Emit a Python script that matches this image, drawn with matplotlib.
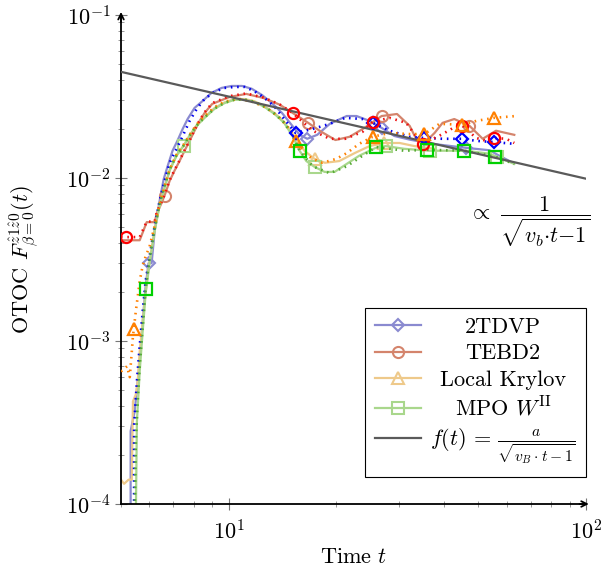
import numpy as np
import matplotlib
matplotlib.use('Agg')
import matplotlib.pyplot as plt
from matplotlib.ticker import LogLocator, NullFormatter

plt.rcParams['font.family'] = 'cmr10'
plt.rcParams['mathtext.fontset'] = 'cm'
plt.rcParams['axes.formatter.use_mathtext'] = True
plt.rcParams['axes.unicode_minus'] = False

# ---- data ----
tdvp_t = [5.32, 5.32, 5.46, 5.64, 5.75, 5.86, 5.97, 6.09, 6.21, 6.41, 6.58, 6.75, 6.97, 7.19, 7.44, 7.68,
          8.03, 8.46, 8.96, 9.56, 10.2, 10.9, 11.6, 12.4, 13.2, 14.1, 15.0, 15.8, 16.6, 17.7, 19.2, 21.4,
          22.8, 24.8, 26.8, 29.1, 32.1, 37.2, 46.3, 53.7, 57.2, 62.4]
tdvp_y = [8e-5, 0.00028, 0.00037, 0.00075, 0.00132, 0.00217, 0.0030, 0.0030, 0.00472, 0.00722, 0.0098,
          0.0118, 0.0147, 0.0169, 0.0200, 0.0230, 0.0269, 0.0297, 0.0333, 0.0357, 0.0367, 0.0367, 0.0353,
          0.0323, 0.0289, 0.0251, 0.0212, 0.0184, 0.0174, 0.0184, 0.0215, 0.0240, 0.0240, 0.0224, 0.0203,
          0.0181, 0.0172, 0.0162, 0.0153, 0.0148, 0.0137, 0.0124]
tdvp_marks = [5.97, 16.6, 26.8, 46.3]

tdvp2_t = [5.44, 5.44, 5.54, 5.64, 5.75, 5.86, 6.01, 6.21, 6.41, 6.62, 6.84, 7.15, 7.44, 7.78, 8.14, 8.57,
           9.14, 9.74, 10.4, 11.1, 11.8, 12.6, 13.45, 14.3, 15.4, 17.2, 19.2, 21.2, 23.7, 25.3, 28.2, 32.1,
           35.3, 39.7, 45.1, 49.3, 55.4, 63.0]
tdvp2_y = [8e-5, 0.000303, 0.000565, 0.00093, 0.00152, 0.00233, 0.0033, 0.00507, 0.00722, 0.00958, 0.0124,
           0.0151, 0.0181, 0.0224, 0.0265, 0.0306, 0.0338, 0.0357, 0.0362, 0.0362, 0.0341, 0.0310, 0.0274,
           0.0230, 0.0189, 0.0200, 0.0215, 0.0234, 0.0230, 0.0218, 0.0195, 0.0179, 0.0176, 0.0174, 0.0174,
           0.0169, 0.0166, 0.0162]
tdvp2_marks = [5.44, 15.4, 25.3, 35.3, 45.1, 55.4]

tebd_t = [5.0, 5.64, 5.90, 6.21, 6.30, 6.45, 6.62, 6.84, 7.06, 7.29, 7.53, 7.78, 8.03, 8.30, 8.57, 9.0,
          10.06, 11.2, 12.5, 13.89, 15.1, 16.7, 17.97, 19.9, 21.8, 24.0, 25.6, 26.8, 29.6, 32.1, 33.7, 35.3,
          37.7, 39.7, 42.8, 47.2, 51.4, 56.0, 63.0]
tebd_y = [0.00415, 0.00415, 0.00536, 0.00536, 0.0061, 0.0068, 0.0078, 0.0096, 0.0111, 0.0127, 0.0147,
          0.0169, 0.0195, 0.0224, 0.0251, 0.0285, 0.0314, 0.0328, 0.0310, 0.0282, 0.0251, 0.0218, 0.0195,
          0.0171, 0.0179, 0.0203, 0.0224, 0.0240, 0.0247, 0.0209, 0.0169, 0.0164, 0.0189, 0.0218, 0.0230,
          0.0209, 0.0174, 0.0195, 0.0184]
tebd_marks = [6.62, 16.7, 26.8, 47.2]

tebd2_t = [5.0, 5.15, 5.64, 5.90, 6.21, 6.30, 6.45, 6.62, 6.84, 7.06, 7.29, 7.53, 7.78, 8.03, 8.30, 8.57,
           9.0, 10.06, 11.2, 12.5, 13.89, 15.1, 17.2, 19.2, 21.2, 23.7, 25.3, 28.2, 31.4, 34.2, 34.9, 39.7,
           42.5, 45.1, 49.3, 52.6, 55.4, 59.8, 63.0]
tebd2_y = [0.00434, 0.00434, 0.00434, 0.0054, 0.0054, 0.0062, 0.0069, 0.0079, 0.0097, 0.0112, 0.0128,
           0.0148, 0.0170, 0.0197, 0.0226, 0.0253, 0.0288, 0.0318, 0.0330, 0.0312, 0.0283, 0.0251, 0.0195,
           0.0174, 0.0174, 0.0192, 0.0221, 0.0234, 0.0218, 0.0169, 0.0162, 0.0186, 0.0203, 0.0209, 0.0176,
           0.0169, 0.0176, 0.0174, 0.0164]
tebd2_marks = [5.15, 15.1, 25.3, 34.9, 45.1, 55.4]

kry_t = [5.0, 5.1, 5.25, 5.36, 5.40, 5.50, 5.57, 5.64, 5.75, 5.86, 6.01, 6.21, 6.41, 6.62, 6.84, 7.15,
         7.48, 7.78, 8.14, 8.57, 9.14, 9.74, 10.4, 11.1, 11.8, 12.6, 13.45, 14.3, 15.4, 16.3, 17.4, 18.6,
         20.4, 22.5, 24.8, 27.3, 30.1, 33.1, 37.7]
kry_y = [0.000141, 0.000133, 0.000141, 0.000141, 0.000426, 0.00047, 0.000565, 0.00086, 0.00132, 0.0020,
         0.0031, 0.0048, 0.0068, 0.0088, 0.0112, 0.0138, 0.0158, 0.0183, 0.0211, 0.0237, 0.0269, 0.0291,
         0.0305, 0.0305, 0.0296, 0.0276, 0.0250, 0.0221, 0.0175, 0.0147, 0.0131, 0.0124, 0.0127, 0.0142,
         0.0157, 0.0164, 0.0164, 0.0157, 0.0151]
kry_marks = [17.4, 27.3]

kry2_t = [5.0, 5.2, 5.29, 5.36, 5.40, 5.43, 5.50, 5.57, 5.64, 5.75, 5.86, 6.01, 6.21, 6.41, 6.62, 6.84,
          7.15, 7.48, 7.78, 8.14, 8.57, 9.14, 9.74, 10.7, 11.7, 12.8, 13.9, 14.8, 15.4, 16.3, 17.2, 18.3,
          20.0, 21.4, 23.2, 25.3, 28.2, 32.1, 35.3, 38.9, 45.1, 49.3, 55.4, 63.7]
kry2_y = [0.00065, 0.0007, 0.0006, 0.00086, 0.00107, 0.00118, 0.00152, 0.00188, 0.00233, 0.0029, 0.0033,
          0.0038, 0.00507, 0.0069, 0.0089, 0.0113, 0.0139, 0.0160, 0.0184, 0.0213, 0.0240, 0.0272, 0.0294,
          0.0306, 0.0293, 0.0269, 0.0234, 0.0200, 0.0169, 0.0142, 0.0131, 0.0124, 0.0131, 0.0142, 0.0162,
          0.0179, 0.0189, 0.0186, 0.0186, 0.0215, 0.0212, 0.0224, 0.0234, 0.0240]
kry2_marks = [5.43, 15.4, 25.3, 35.3, 45.1, 55.4]

mpo_t = [5.50, 5.54, 5.64, 5.75, 5.86, 6.01, 6.21, 6.41, 6.62, 6.84, 7.15, 7.48, 7.78, 8.14, 8.57, 9.14,
         9.74, 10.4, 11.1, 11.8, 12.6, 13.45, 14.3, 15.1, 15.8, 16.5, 17.4, 18.56, 19.8, 21.4, 23.2, 25.8,
         27.5, 31.05, 36.5, 45.9, 53.7, 56.3, 63.0]
mpo_y = [8e-5, 0.00032, 0.00065, 0.00115, 0.00196, 0.0030, 0.00472, 0.00673, 0.0087, 0.0111, 0.0137,
         0.0157, 0.0181, 0.0209, 0.0234, 0.0266, 0.0288, 0.0302, 0.0302, 0.0293, 0.0273, 0.0247, 0.0218,
         0.0181, 0.0147, 0.0127, 0.0117, 0.0109, 0.0109, 0.0122, 0.0137, 0.0153, 0.0157, 0.0151, 0.0147,
         0.0147, 0.0141, 0.0135, 0.0122]
mpo_marks = [7.48, 17.4, 27.5, 36.5, 56.3]

mpo2_t = [5.46, 5.50, 5.57, 5.64, 5.75, 5.86, 6.01, 6.21, 6.41, 6.62, 6.84, 7.15, 7.48, 7.78, 8.14, 8.57,
          9.14, 9.74, 10.4, 11.1, 11.8, 12.6, 13.45, 14.3, 15.1, 15.8, 17.2, 19.2, 21.4, 23.7, 25.9, 31.0,
          35.9, 45.7, 55.8, 63.0]
mpo2_y = [8e-5, 0.00024, 0.00043, 0.00070, 0.00120, 0.00208, 0.0032, 0.0049, 0.0069, 0.0089, 0.0113,
          0.0138, 0.0158, 0.0182, 0.0210, 0.0236, 0.0267, 0.0289, 0.0303, 0.0303, 0.0294, 0.0274, 0.0248,
          0.0219, 0.0182, 0.0147, 0.0118, 0.0107, 0.0118, 0.0137, 0.0155, 0.0147, 0.0149, 0.0147, 0.0135,
          0.0122]
mpo2_marks = [5.86, 15.8, 25.9, 35.9, 45.7, 55.8]

fit_t = [5, 100]
fit_y = [0.0448, 0.0099]

labels = ['2TDVP', 'TEBD2', 'Local Krylov', r'MPO $W^{\mathrm{II}}$',
          r'$f(t)\,=\,\frac{a}{\sqrt{v_B\cdot t-1}}$']


def idx(ts, marks):
    ts = np.asarray(ts)
    return [int(np.argmin(np.abs(ts - m))) for m in marks]


fig = plt.figure(figsize=(6.03, 5.74), dpi=100)
ax = fig.add_axes([121 / 603, 70 / 574, 465 / 603, 489 / 574])

light = {'tdvp': '#8a8ad0', 'tebd': '#d4846c', 'kry': '#eec98a', 'mpo': '#a9d78c'}
dark = {'tdvp': '#0000ff', 'tebd': '#ff0000', 'kry': '#ff8000', 'mpo': '#00d000'}
dots = {'tdvp': '#0000ee', 'tebd': '#ee1111', 'kry': '#ff8000', 'mpo': '#55aa33'}

series = [('tdvp', 'D', tdvp_t, tdvp_y, tdvp_marks, tdvp2_t, tdvp2_y, tdvp2_marks, 6.5),
          ('tebd', 'o', tebd_t, tebd_y, tebd_marks, tebd2_t, tebd2_y, tebd2_marks, 8),
          ('kry', '^', kry_t, kry_y, kry_marks, kry2_t, kry2_y, kry2_marks, 8),
          ('mpo', 's', mpo_t, mpo_y, mpo_marks, mpo2_t, mpo2_y, mpo2_marks, 8)]

handles = []
for key, m, t1, y1, mk1, t2, y2, mk2, ms in series:
    h, = ax.plot(t1, y1, color=light[key], lw=1.6, marker=m, ms=ms, mfc='none', mew=1.5,
                 markevery=idx(t1, mk1), zorder=2)
    handles.append(h)
for key, m, t1, y1, mk1, t2, y2, mk2, ms in series:
    ax.plot(t2, y2, color=dots[key], lw=1.9, ls=(0, (0.6, 1.8)), zorder=3)
    ax.plot(t2, y2, ls='none', marker=m, ms=ms, mfc='none', mec=dark[key], mew=1.6,
            markevery=idx(t2, mk2), zorder=4)

hf, = ax.plot(fit_t, fit_y, color='#5a5a5a', lw=1.6, zorder=3)
handles.append(hf)

ax.set_xscale('log')
ax.set_yscale('log')
ax.set_xlim(5, 100)
ax.set_ylim(1e-4, 1e-1)
ax.xaxis.set_minor_formatter(NullFormatter())
ax.yaxis.set_minor_locator(LogLocator(subs=np.arange(2, 10)))

for s in ['top', 'right']:
    ax.spines[s].set_visible(False)
for s in ['left', 'bottom']:
    ax.spines[s].set_linewidth(1.3)
ax.tick_params(which='major', direction='inout', length=8, width=0.8, color='#777777', labelsize=16)
ax.tick_params(axis='x', which='major', pad=7)
ax.tick_params(which='minor', direction='inout', length=4, width=0.6, color='#888888')
ax.annotate('', xy=(1.012, 0), xytext=(0.98, 0), xycoords='axes fraction',
            arrowprops=dict(arrowstyle='->', lw=1.3, color='black'))
ax.annotate('', xy=(0, 1.012), xytext=(0, 0.98), xycoords='axes fraction',
            arrowprops=dict(arrowstyle='->', lw=1.3, color='black'))

ax.set_xlabel(r'Time $t$', fontsize=16, labelpad=3)
ax.set_ylabel(r'OTOC $F^{\hat{z}1\hat{z}0}_{\beta=0}(t)$', fontsize=16)
ax.yaxis.set_label_coords(-0.172, 0.5)

ax.text(0.88, 0.577, r'$\propto\ \dfrac{1}{\sqrt{v_b{\cdot}t{-}1}}$', transform=ax.transAxes,
        fontsize=16, ha='center', va='center')

leg = ax.legend(handles, labels, loc='lower right', bbox_to_anchor=(1.0, 27 / 489), borderaxespad=0,
                fancybox=False, edgecolor='black', framealpha=1, fontsize=16, handlelength=2.1,
                handletextpad=0.4, labelspacing=0.3, borderpad=0.45, numpoints=1)
leg.get_frame().set_linewidth(0.8)

# centre legend texts like the reference
fig.canvas.draw()
r = fig.canvas.get_renderer()
texts = leg.get_texts()
ws = [t.get_window_extent(r).width for t in texts]
mw = max(ws)
for t, w in zip(texts, ws):
    t.set_x((mw - w) / 2)

fig.savefig('out.png', dpi=100)
